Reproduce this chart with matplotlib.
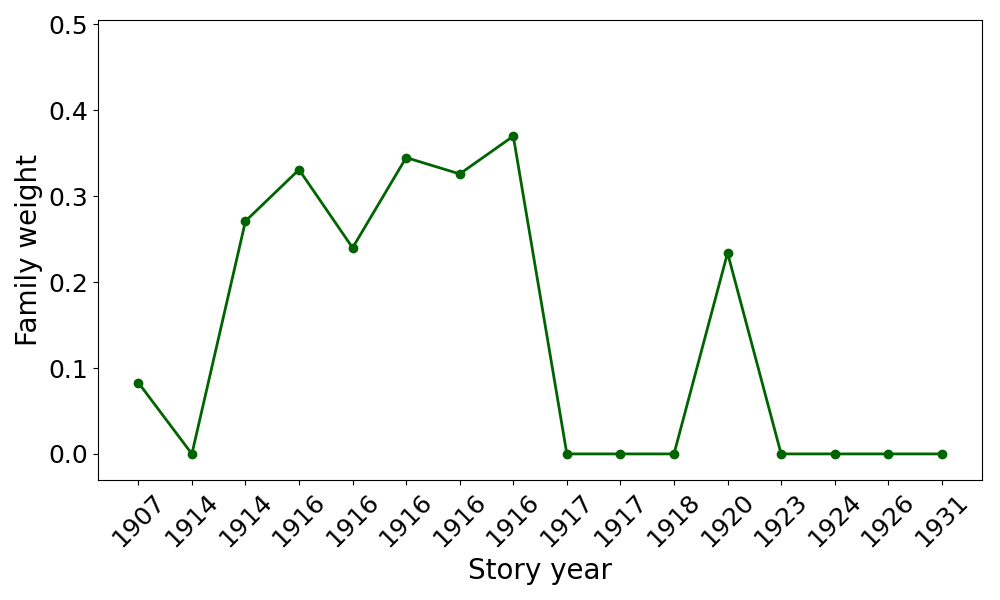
import matplotlib
matplotlib.use('Agg')
import matplotlib.pyplot as plt

# Story years (tick labels) and family weight per story
years = ['1907', '1914', '1914', '1916', '1916', '1916', '1916', '1916',
         '1917', '1917', '1918', '1920', '1923', '1924', '1926', '1931']
weights = [0.083, 0.0, 0.271, 0.331, 0.240, 0.345, 0.326, 0.370,
           0.0, 0.0, 0.0, 0.234, 0.0, 0.0, 0.0, 0.0]

positions = list(range(len(years)))

plt.figure(figsize=(10, 6))
plt.plot(positions, weights, marker='o', color='darkgreen', linewidth=2, markersize=6)

plt.xlabel('Story year', fontsize=20)
plt.ylabel('Family weight', fontsize=20)
plt.xticks(positions, years, rotation=45, fontsize=18)
plt.yticks(fontsize=18)
plt.ylim(-0.03, 0.505)

plt.tight_layout()
plt.subplots_adjust(right=0.982)
plt.savefig('out.png', dpi=100)
